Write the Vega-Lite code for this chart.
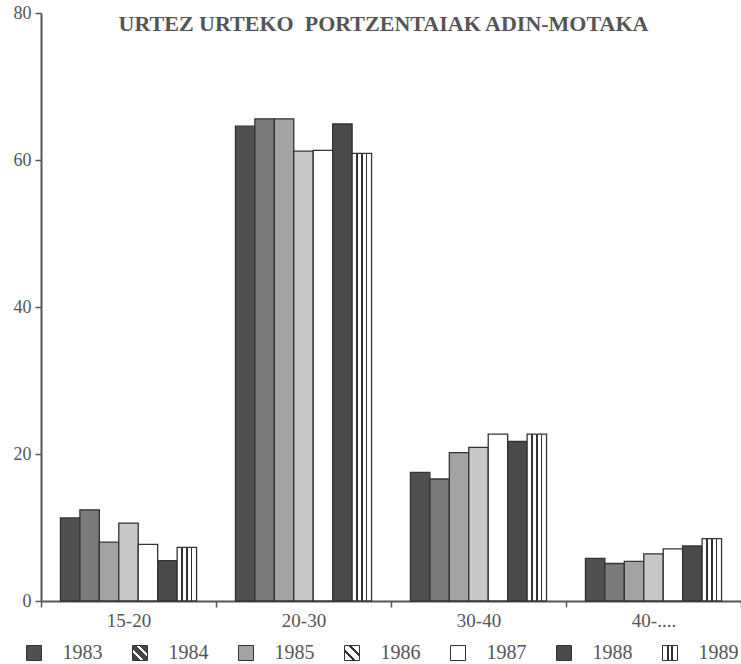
{
  "$schema": "https://vega.github.io/schema/vega-lite/v6.json",
  "padding": {"left": 13, "top": 4, "right": 0, "bottom": 0},
  "background": "white",
  "datasets": {
    "bars": [
      {"age": "15-20", "year": "1983", "pct": 11.3},
      {"age": "15-20", "year": "1984", "pct": 12.4},
      {"age": "15-20", "year": "1985", "pct": 8.0},
      {"age": "15-20", "year": "1986", "pct": 10.6},
      {"age": "15-20", "year": "1987", "pct": 7.7},
      {"age": "15-20", "year": "1988", "pct": 5.5},
      {"age": "15-20", "year": "1989", "pct": 7.3},
      {"age": "20-30", "year": "1983", "pct": 64.6},
      {"age": "20-30", "year": "1984", "pct": 65.6},
      {"age": "20-30", "year": "1985", "pct": 65.6},
      {"age": "20-30", "year": "1986", "pct": 61.2},
      {"age": "20-30", "year": "1987", "pct": 61.3},
      {"age": "20-30", "year": "1988", "pct": 64.9},
      {"age": "20-30", "year": "1989", "pct": 60.9},
      {"age": "30-40", "year": "1983", "pct": 17.5},
      {"age": "30-40", "year": "1984", "pct": 16.6},
      {"age": "30-40", "year": "1985", "pct": 20.2},
      {"age": "30-40", "year": "1986", "pct": 20.9},
      {"age": "30-40", "year": "1987", "pct": 22.7},
      {"age": "30-40", "year": "1988", "pct": 21.7},
      {"age": "30-40", "year": "1989", "pct": 22.7},
      {"age": "40-....", "year": "1983", "pct": 5.8},
      {"age": "40-....", "year": "1984", "pct": 5.1},
      {"age": "40-....", "year": "1985", "pct": 5.4},
      {"age": "40-....", "year": "1986", "pct": 6.4},
      {"age": "40-....", "year": "1987", "pct": 7.1},
      {"age": "40-....", "year": "1988", "pct": 7.5},
      {"age": "40-....", "year": "1989", "pct": 8.5}
    ],
    "years": [
      {"year": "1983"}, {"year": "1984"}, {"year": "1985"}, {"year": "1986"},
      {"year": "1987"}, {"year": "1988"}, {"year": "1989"}
    ],
    "heading": [
      {"text": "URTEZ URTEKO\u00a0 PORTZENTAIAK ADIN-MOTAKA"}
    ]
  },
  "spacing": 13,
  "vconcat": [
    {
      "width": 700,
      "height": 588,
      "layer": [
        {
          "data": {"name": "bars"},
          "mark": {"type": "bar", "stroke": "#333333", "strokeWidth": 1.3, "opacity": 1},
          "encoding": {
            "x": {
              "field": "age",
              "type": "nominal",
              "sort": null,
              "scale": {"paddingInner": 0, "paddingOuter": 0},
              "axis": {
                "title": null,
                "labelAngle": 0,
                "tickBand": "extent",
                "tickSize": 6,
                "tickWidth": 1.5,
                "tickColor": "#555555",
                "domainColor": "#555555",
                "domainWidth": 2,
                "labelFont": "Liberation Serif",
                "labelFontSize": 19,
                "labelColor": "#555555",
                "labelPadding": 4
              }
            },
            "xOffset": {
              "field": "year",
              "type": "nominal",
              "scale": {"paddingInner": 0, "paddingOuter": 1.5}
            },
            "y": {
              "field": "pct",
              "type": "quantitative",
              "scale": {"domain": [0, 80], "nice": false},
              "axis": {
                "title": null,
                "grid": false,
                "values": [0, 20, 40, 60, 80],
                "tickSize": 6,
                "tickWidth": 1.5,
                "tickColor": "#555555",
                "domainColor": "#555555",
                "domainWidth": 2,
                "labelFont": "Liberation Serif",
                "labelFontSize": 18,
                "labelColor": "#555555",
                "labelPadding": 4
              }
            },
            "color": {
              "condition": {
                "test": "datum.year === '1989'",
                "value": {
                  "gradient": "linear",
                  "x1": 0, "y1": 0, "x2": 1, "y2": 0,
                  "stops": [
                    {"offset": 0, "color": "#ffffff"},
                    {"offset": 0.22, "color": "#ffffff"},
                    {"offset": 0.22, "color": "#333333"},
                    {"offset": 0.3, "color": "#333333"},
                    {"offset": 0.3, "color": "#ffffff"},
                    {"offset": 0.46, "color": "#ffffff"},
                    {"offset": 0.46, "color": "#333333"},
                    {"offset": 0.54, "color": "#333333"},
                    {"offset": 0.54, "color": "#ffffff"},
                    {"offset": 0.7, "color": "#ffffff"},
                    {"offset": 0.7, "color": "#333333"},
                    {"offset": 0.78, "color": "#333333"},
                    {"offset": 0.78, "color": "#ffffff"},
                    {"offset": 1, "color": "#ffffff"}
                  ]
                }
              },
              "field": "year",
              "type": "nominal",
              "scale": {
                "domain": ["1983", "1984", "1985", "1986", "1987", "1988", "1989"],
                "range": ["#505050", "#7a7a7a", "#a3a3a3", "#c8c8c8", "#ffffff", "#4a4a4a", "#dddddd"]
              },
              "legend": null
            }
          }
        },
        {
          "data": {"name": "heading"},
          "mark": {
            "type": "text",
            "align": "center",
            "baseline": "alphabetic",
            "dx": -7.5,
            "dy": 18,
            "font": "Liberation Serif",
            "fontSize": 22,
            "fontWeight": "bold",
            "color": "#555555"
          },
          "encoding": {
            "y": {"datum": 80, "type": "quantitative"},
            "text": {"field": "text", "type": "nominal"}
          }
        }
      ]
    },
    {
      "width": 630,
      "height": 20,
      "data": {"name": "years"},
      "encoding": {
        "x": {
          "field": "year",
          "type": "nominal",
          "sort": null,
          "scale": {"type": "point", "padding": 0, "range": [-7, 629]},
          "axis": null
        }
      },
      "layer": [
        {
          "mark": {"type": "square", "size": 225, "filled": true, "opacity": 1, "stroke": "#333333", "strokeWidth": 1},
          "encoding": {
            "color": {
              "condition": [
                {
                  "test": "datum.year === '1989'",
                  "value": {
                    "gradient": "linear",
                    "x1": 0, "y1": 0, "x2": 1, "y2": 0,
                    "stops": [
                      {"offset": 0, "color": "#ffffff"},
                      {"offset": 0.28, "color": "#ffffff"},
                      {"offset": 0.28, "color": "#333333"},
                      {"offset": 0.42, "color": "#333333"},
                      {"offset": 0.42, "color": "#ffffff"},
                      {"offset": 0.58, "color": "#ffffff"},
                      {"offset": 0.58, "color": "#333333"},
                      {"offset": 0.72, "color": "#333333"},
                      {"offset": 0.72, "color": "#ffffff"},
                      {"offset": 1, "color": "#ffffff"}
                    ]
                  }
                },
                {
                  "test": "datum.year === '1984'",
                  "value": {
                    "gradient": "linear",
                    "x1": 0, "y1": 1, "x2": 1, "y2": 0,
                    "stops": [
                      {"offset": 0, "color": "#444444"},
                      {"offset": 0.27, "color": "#444444"},
                      {"offset": 0.27, "color": "#ffffff"},
                      {"offset": 0.37, "color": "#ffffff"},
                      {"offset": 0.37, "color": "#444444"},
                      {"offset": 0.63, "color": "#444444"},
                      {"offset": 0.63, "color": "#ffffff"},
                      {"offset": 0.73, "color": "#ffffff"},
                      {"offset": 0.73, "color": "#444444"},
                      {"offset": 1, "color": "#444444"}
                    ]
                  }
                },
                {
                  "test": "datum.year === '1986'",
                  "value": {
                    "gradient": "linear",
                    "x1": 0, "y1": 1, "x2": 1, "y2": 0,
                    "stops": [
                      {"offset": 0, "color": "#ffffff"},
                      {"offset": 0.27, "color": "#ffffff"},
                      {"offset": 0.27, "color": "#333333"},
                      {"offset": 0.38, "color": "#333333"},
                      {"offset": 0.38, "color": "#ffffff"},
                      {"offset": 0.62, "color": "#ffffff"},
                      {"offset": 0.62, "color": "#333333"},
                      {"offset": 0.73, "color": "#333333"},
                      {"offset": 0.73, "color": "#ffffff"},
                      {"offset": 1, "color": "#ffffff"}
                    ]
                  }
                }
              ],
              "field": "year",
              "type": "nominal",
              "scale": {
                "domain": ["1983", "1984", "1985", "1986", "1987", "1988", "1989"],
                "range": ["#505050", "#7a7a7a", "#a3a3a3", "#c8c8c8", "#ffffff", "#4a4a4a", "#dddddd"]
              },
              "legend": null
            }
          }
        },
        {
          "mark": {
            "type": "text",
            "align": "left",
            "baseline": "middle",
            "dx": 28.5,
            "dy": 0,
            "font": "Liberation Serif",
            "fontSize": 20,
            "color": "#555555"
          },
          "encoding": {
            "text": {"field": "year", "type": "nominal"}
          }
        }
      ]
    }
  ],
  "resolve": {"scale": {"x": "independent", "color": "shared"}},
  "config": {"view": {"stroke": null}}
}
